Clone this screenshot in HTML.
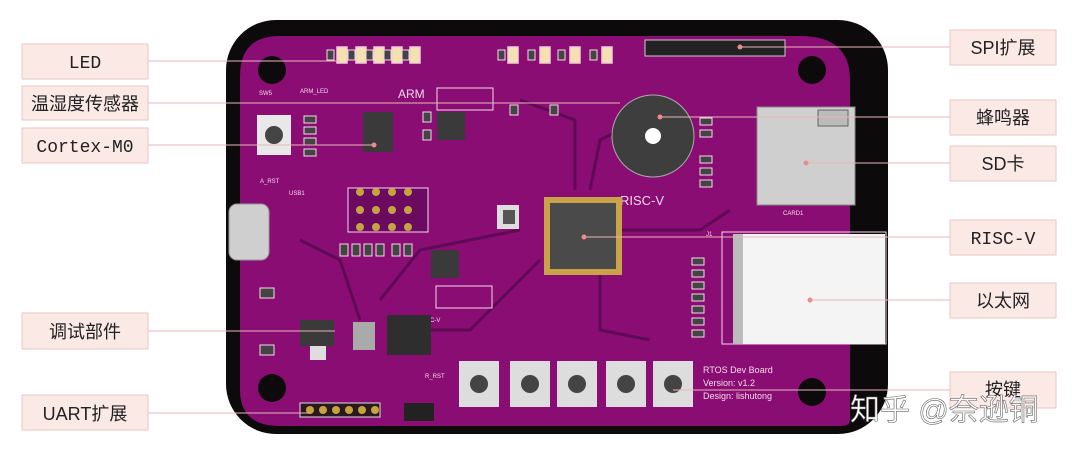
<!DOCTYPE html>
<html><head><meta charset="utf-8"><style>
body{margin:0;background:#fff;width:1080px;height:454px;overflow:hidden;font-family:"Liberation Sans","Noto Sans CJK SC",sans-serif}
</style></head><body>
<svg width="1080" height="454" viewBox="0 0 1080 454" xmlns="http://www.w3.org/2000/svg" font-family="Liberation Sans, Noto Sans CJK SC, sans-serif">
<rect width="1080" height="454" fill="#fff"/>
<rect x="226" y="20" width="662" height="414" rx="50" fill="#0d0a0c"/>
<path d="M280 36 H800 Q850 36 850 80 V420 Q850 426 840 426 H280 Q240 426 240 390 V76 Q240 36 280 36 Z" fill="#8a0d74"/>
<circle cx="272" cy="70" r="14" fill="#0d0a0c"/><circle cx="272" cy="388" r="14" fill="#0d0a0c"/>
<circle cx="812" cy="70" r="14" fill="#0d0a0c"/><circle cx="812" cy="392" r="14" fill="#0d0a0c"/>
<g stroke="#5e0a55" stroke-width="3" fill="none">
<path d="M575 190 L575 120 L520 100"/><path d="M590 190 L600 140 L640 120"/><path d="M620 230 L700 230 L730 210"/><path d="M540 260 L470 330 L420 330"/><path d="M600 275 L600 330 L650 340"/><path d="M520 230 L420 250 L380 300"/><path d="M300 240 L340 260 L360 320"/>
</g>
<g fill="#f3e2b0" stroke="#f6c9dc" stroke-width="1.5">
<rect x="337" y="47" width="10" height="16"/><rect x="356" y="47" width="10" height="16"/><rect x="374" y="47" width="10" height="16"/><rect x="392" y="47" width="10" height="16"/><rect x="410" y="47" width="10" height="16"/>
<rect x="508" y="47" width="10" height="16"/><rect x="540" y="47" width="10" height="16"/><rect x="570" y="47" width="10" height="16"/><rect x="602" y="47" width="10" height="16"/>
</g>
<!-- small resistor pads -->
<g fill="#444" stroke="#f5d9e8" stroke-width="1">
<rect x="327" y="50" width="7" height="10"/><rect x="348" y="50" width="7" height="10"/><rect x="366" y="50" width="7" height="10"/><rect x="384" y="50" width="7" height="10"/><rect x="402" y="50" width="7" height="10"/>
<rect x="498" y="50" width="7" height="10"/><rect x="528" y="50" width="7" height="10"/><rect x="558" y="50" width="7" height="10"/><rect x="590" y="50" width="7" height="10"/>
<rect x="304" y="116" width="12" height="7"/><rect x="304" y="127" width="12" height="7"/><rect x="304" y="138" width="12" height="7"/><rect x="304" y="149" width="12" height="7"/>
<rect x="700" y="118" width="12" height="7"/><rect x="700" y="130" width="12" height="7"/><rect x="700" y="156" width="12" height="7"/><rect x="700" y="168" width="12" height="7"/><rect x="700" y="180" width="12" height="7"/>
<rect x="692" y="258" width="12" height="7"/><rect x="692" y="270" width="12" height="7"/><rect x="692" y="282" width="12" height="7"/><rect x="692" y="294" width="12" height="7"/><rect x="692" y="306" width="12" height="7"/><rect x="692" y="318" width="12" height="7"/><rect x="692" y="330" width="12" height="7"/>
<rect x="340" y="244" width="8" height="12"/><rect x="352" y="244" width="8" height="12"/><rect x="364" y="244" width="8" height="12"/><rect x="376" y="244" width="8" height="12"/><rect x="392" y="244" width="8" height="12"/><rect x="404" y="244" width="8" height="12"/>
<rect x="423" y="112" width="8" height="10"/><rect x="423" y="130" width="8" height="10"/><rect x="510" y="105" width="8" height="10"/><rect x="550" y="105" width="8" height="10"/>
<rect x="260" y="288" width="14" height="10"/><rect x="260" y="345" width="14" height="10"/>
</g>
<rect x="645" y="40" width="140" height="16" fill="#222" stroke="#ccc"/>
<g fill="#f5d9e8" font-size="6"><text x="300" y="93">ARM_LED</text><text x="398" y="98" font-size="12">ARM</text><text x="620" y="205" font-size="13">RISC-V</text><text x="259" y="95">SW5</text><text x="260" y="183">A_RST</text><text x="289" y="195">USB1</text><text x="420" y="322">RISC-V</text><text x="425" y="378">R_RST</text><text x="706" y="236">J1</text><text x="783" y="215">CARD1</text></g>
<rect x="363" y="112" width="30" height="40" fill="#3a3a3a"/>
<rect x="437" y="112" width="28" height="28" fill="#3a3a3a"/><rect x="431" y="250" width="28" height="28" fill="#3a3a3a"/>
<rect x="437" y="88" width="56" height="22" fill="none" stroke="#f5d9e8"/><rect x="436" y="286" width="56" height="22" fill="none" stroke="#f5d9e8"/>
<rect x="348" y="188" width="80" height="44" fill="#6a0a60" stroke="#f5d9e8"/>
<g fill="#c7a340"><circle cx="360" cy="192" r="4"/><circle cx="376" cy="192" r="4"/><circle cx="392" cy="192" r="4"/><circle cx="408" cy="192" r="4"/><circle cx="360" cy="210" r="4"/><circle cx="376" cy="210" r="4"/><circle cx="392" cy="210" r="4"/><circle cx="408" cy="210" r="4"/><circle cx="360" cy="227" r="4"/><circle cx="376" cy="227" r="4"/><circle cx="392" cy="227" r="4"/><circle cx="408" cy="227" r="4"/></g>
<rect x="300" y="403" width="80" height="14" fill="#2a1a20" stroke="#ddd"/>
<g fill="#c7a340"><circle cx="310" cy="410" r="4"/><circle cx="323" cy="410" r="4"/><circle cx="336" cy="410" r="4"/><circle cx="349" cy="410" r="4"/><circle cx="362" cy="410" r="4"/><circle cx="375" cy="410" r="4"/></g>
<rect x="257" y="115" width="34" height="40" fill="#e8e8e8"/><circle cx="274" cy="135" r="9" fill="#444"/>
<rect x="229" y="204" width="40" height="56" rx="8" fill="#cfcfcf" stroke="#999"/>
<rect x="300" y="320" width="34" height="26" fill="#3a3a3a"/><rect x="310" y="346" width="16" height="14" fill="#ddd"/>
<rect x="387" y="315" width="44" height="40" fill="#2e2e2e"/><rect x="353" y="322" width="22" height="28" fill="#aaa"/>
<rect x="544" y="197" width="78" height="78" fill="#c9a24a"/><rect x="550" y="203" width="66" height="66" fill="#4a4a4a"/>
<rect x="497" y="205" width="22" height="24" fill="#ddd"/><rect x="503" y="210" width="12" height="14" fill="#555"/>
<circle cx="653" cy="136" r="41" fill="#3e3e3e" stroke="#aaa"/><circle cx="653" cy="136" r="8" fill="#fff"/>
<path d="M757 107 H855 V205 H757 Z" fill="#cfcfcf" stroke="#888"/><rect x="818" y="110" width="30" height="16" fill="#bbb" stroke="#666"/>
<rect x="722" y="232" width="164" height="112" fill="none" stroke="#f5d9e8"/>
<rect x="733" y="234" width="152" height="110" fill="#f4f4f4"/><rect x="733" y="234" width="10" height="110" fill="#bbb"/>
<g fill="#ddd"><rect x="459" y="361" width="40" height="46"/><rect x="510" y="361" width="40" height="46"/><rect x="557" y="361" width="40" height="46"/><rect x="606" y="361" width="40" height="46"/><rect x="653" y="361" width="40" height="46"/></g>
<g fill="#444"><circle cx="479" cy="384" r="9"/><circle cx="530" cy="384" r="9"/><circle cx="577" cy="384" r="9"/><circle cx="626" cy="384" r="9"/><circle cx="673" cy="384" r="9"/></g>
<rect x="404" y="403" width="30" height="18" fill="#222"/>
<g fill="#f5d9e8" font-size="9"><text x="703" y="373">RTOS Dev Board</text><text x="703" y="386">Version: v1.2</text><text x="703" y="399">Design: lishutong</text></g>
<g stroke="#e8b7b7" stroke-width="1">
<line x1="148" y1="61" x2="340" y2="61"/><line x1="148" y1="103" x2="620" y2="103"/><line x1="148" y1="145" x2="375" y2="145"/>
<line x1="148" y1="331" x2="335" y2="331"/><line x1="148" y1="413" x2="310" y2="413"/>
<line x1="740" y1="47" x2="950" y2="47"/><line x1="660" y1="117" x2="950" y2="117"/><line x1="806" y1="163" x2="950" y2="163"/>
<line x1="584" y1="237" x2="950" y2="237"/><line x1="810" y1="300" x2="950" y2="300"/><line x1="673" y1="390" x2="950" y2="390"/>
</g>
<g fill="#f08a8a"><circle cx="740" cy="47" r="2.5"/><circle cx="660" cy="117" r="2.5"/><circle cx="806" cy="163" r="2.5"/><circle cx="584" cy="237" r="2.5"/><circle cx="810" cy="300" r="2.5"/><circle cx="374" cy="145" r="2.5"/></g>
<g fill="#fbe9e6" stroke="#e9c6c2" stroke-width="1">
<rect x="22" y="44" width="126" height="35"/><rect x="22" y="86" width="126" height="34"/><rect x="22" y="128" width="126" height="35"/><rect x="22" y="313" width="126" height="36"/><rect x="22" y="395" width="126" height="35"/>
<rect x="950" y="30" width="106" height="35"/><rect x="950" y="100" width="106" height="35"/><rect x="950" y="146" width="106" height="35"/><rect x="950" y="220" width="106" height="35"/><rect x="950" y="283" width="106" height="35"/><rect x="950" y="372" width="106" height="36"/>
</g>
<g fill="#222" font-size="18" text-anchor="middle">
<text x="85" y="68" font-family="Liberation Mono, monospace">LED</text>
<text x="85" y="110">温湿度传感器</text>
<text x="85" y="152" font-family="Liberation Mono, monospace">Cortex-M0</text>
<text x="85" y="338">调试部件</text>
<text x="85" y="420">UART扩展</text>
<text x="1003" y="54">SPI扩展</text>
<text x="1003" y="124">蜂鸣器</text>
<text x="1003" y="170">SD卡</text>
<text x="1003" y="244" font-family="Liberation Mono, monospace">RISC-V</text>
<text x="1003" y="307">以太网</text>
<text x="1003" y="396">按键</text>
</g>
<text x="850" y="420" font-size="30" fill="#fff" stroke="#666" stroke-width="0.6">知乎 @奈逊铜</text>
</svg>
</body></html>
